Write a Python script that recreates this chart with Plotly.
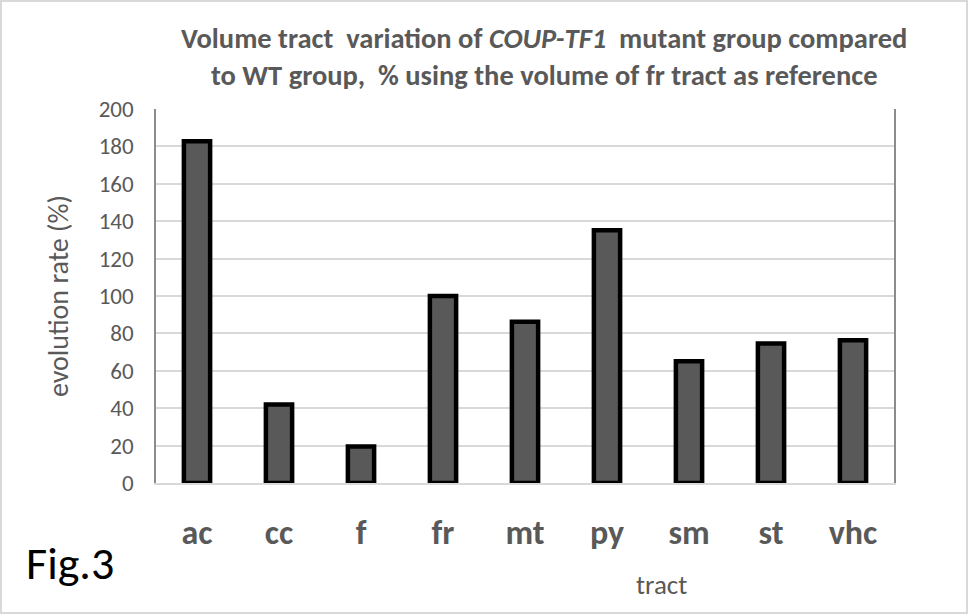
import plotly.graph_objects as go

categories = ["ac", "cc", "f", "fr", "mt", "py", "sm", "st", "vhc"]
values = [182.8, 42, 19.5, 100, 86.2, 135.2, 65.1, 74.6, 76.4]
y_ticks = [0, 20, 40, 60, 80, 100, 120, 140, 160, 180, 200]

title_text = ("Volume tract  variation of <i>COUP-TF1</i>  mutant group compared<br>"
              "to WT group,  % using the volume of fr tract as reference")

FONT = "Carlito, Liberation Sans Narrow, Noto Sans, sans-serif"
GREY = "#595959"
W, H = 968, 614
L, R, T, B = 156, 74, 109, 131

fig = go.Figure(go.Bar(
    x=categories, y=values,
    marker=dict(color="#595959", line=dict(color="black", width=4.5)),
    width=0.32,
))

pw = W - L - R
ph = H - T - B


def px2paper(px, py):
    return (px - L) / pw, (H - B - py) / ph


tx, ty = px2paper(661, 584)
fx, fy = px2paper(70, 563)
t1x, t1y = px2paper(544, 57)

fig.update_layout(
    width=W, height=H,
    margin=dict(l=L, r=R, t=T, b=B),
    paper_bgcolor="white", plot_bgcolor="white",
    showlegend=False,
    font=dict(family=FONT, color=GREY),
    xaxis=dict(
        tickfont=dict(size=34, family=FONT, color=GREY, weight="bold"),
        showline=True, linecolor="#d9d9d9", linewidth=1.5, mirror=False,
        ticks="", showgrid=False, ticklabelstandoff=18,
    ),
    yaxis=dict(
        range=[0, 200], tickvals=y_ticks,
        tickfont=dict(size=23, family=FONT, color=GREY),
        showgrid=True, gridcolor="#d9d9d9", gridwidth=1.5,
        showline=True, linecolor="#8c8c8c", linewidth=1.5, mirror=True,
        ticks="", zeroline=False, ticklabelstandoff=16,
        title=dict(text="evolution rate (%)", font=dict(size=28, family=FONT, color=GREY), standoff=22),
    ),
    annotations=[
        dict(text=title_text, x=t1x, y=t1y, xref="paper", yref="paper", showarrow=False,
             xanchor="center", yanchor="middle",
             font=dict(size=28.5, family=FONT, color=GREY, weight="bold")),
        dict(text="tract", x=tx, y=ty, xref="paper", yref="paper", showarrow=False,
             xanchor="center", yanchor="middle",
             font=dict(size=27, family=FONT, color=GREY)),
        dict(text="Fig.3", x=fx, y=fy, xref="paper", yref="paper", showarrow=False,
             xanchor="center", yanchor="middle",
             font=dict(size=46, family=FONT, color="black")),
    ],
)

fig.add_shape(type="rect", xref="paper", yref="paper",
              x0=(1 - L) / pw, x1=(W - 1 - L) / pw,
              y0=(1 - B) / ph, y1=(H - 1 - B) / ph,
              line=dict(color="#d9d9d9", width=2), layer="below")

fig.write_html("out.html", config={"displayModeBar": False},
               post_script="document.body.style.margin='0';document.body.style.overflow='hidden';")
